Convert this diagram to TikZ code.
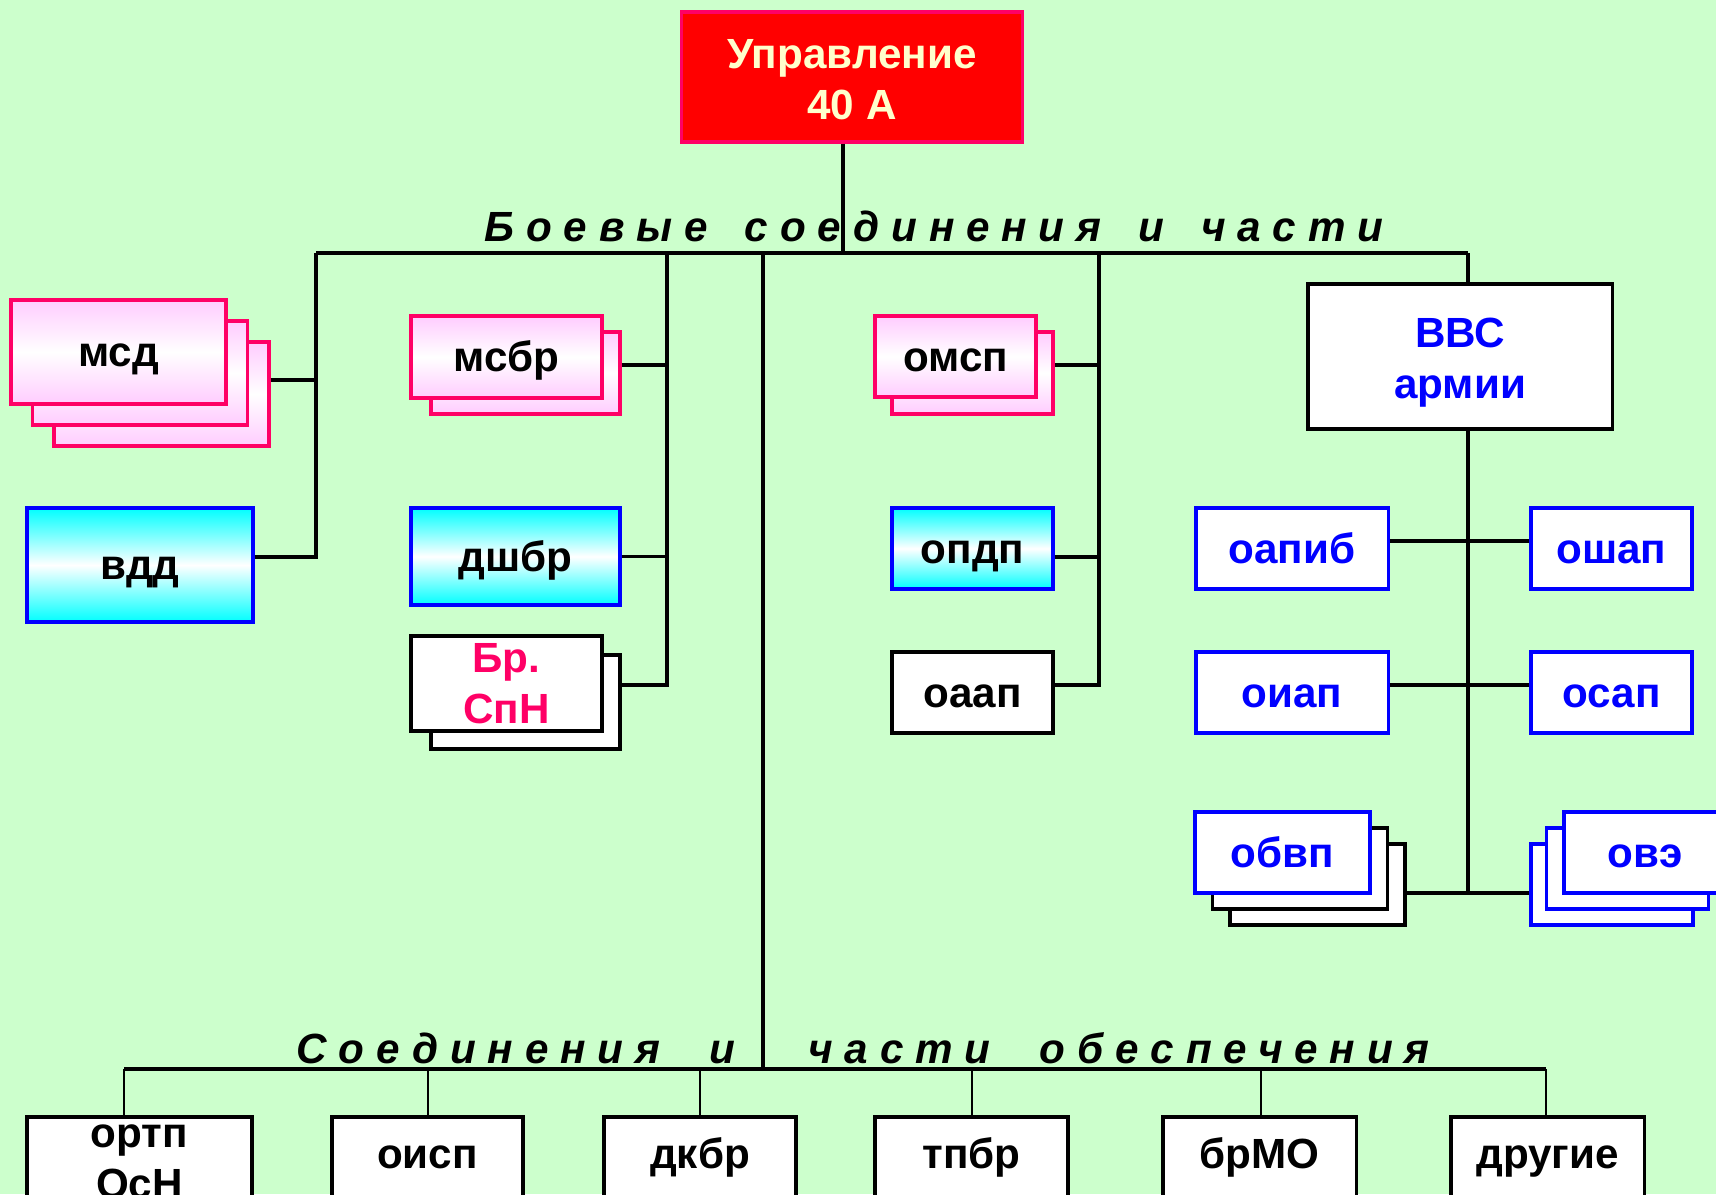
\documentclass[tikz,border=0pt]{standalone}
\usepackage{fontspec}
\setmainfont{Liberation Sans}
\newfontfamily\spacedfont[LetterSpace=28]{Liberation Sans}

\definecolor{bg}{HTML}{CCFFCC}
\definecolor{hotpink}{HTML}{FF0066}
\definecolor{pinkfill}{HTML}{FFCCFF}
\definecolor{cream}{HTML}{FFFFCC}

\begin{document}
\begin{tikzpicture}[x=0.01cm, y=-0.01cm,
  every node/.style = {shape=rectangle, draw, align=center, inner sep=0pt,
    line width=0.9pt, font=\fontsize{12}{14.5}\selectfont\bfseries,
    text height=10.8pt, text depth=2.5pt},
  twolines/.style = {text height={}, text depth={}},
  headbox/.style = {draw=hotpink, fill=red, text=cream},
  pinkbox/.style = {draw=hotpink, top color=pinkfill, bottom color=pinkfill, middle color=white},
  cyanbox/.style = {draw=blue, top color=cyan, bottom color=cyan, middle color=white},
  whitebox/.style = {draw=black, fill=white},
  bluebox/.style = {draw=blue, fill=white, text=blue},
  suppbox/.style = {whitebox, minimum height=0.82cm, text depth=4.6pt},
  grouplabel/.style = {draw=none, anchor=base west, text height={}, text depth={},
    font=\spacedfont\fontsize{12}{14.5}\selectfont\bfseries\itshape},
  bus/.style = {line width=0.9pt}]
  \clip (0,0) rectangle (1716,1194);
  \fill[bg] (0,0) rectangle (1716,1194);

  \node[headbox, twolines, minimum width=3.4cm, minimum height=1.3cm] (upr) at (852,77) {\rule{0pt}{9.8pt}Управление\\40 А};

  % combat units
  \node[pinkbox, minimum width=2.15cm, minimum height=1.04cm] (msdC) at (161.5,394) {};
  \node[pinkbox, minimum width=2.15cm, minimum height=1.04cm] (msdB) at (140,373) {};
  \node[pinkbox, minimum width=2.15cm, minimum height=1.04cm] (msd) at (118.5,352) {мсд};
  \node[cyanbox, minimum width=2.26cm, minimum height=1.14cm] (vdd) at (140,565) {вдд};

  \node[pinkbox, minimum width=1.89cm, minimum height=0.82cm] (msbrB) at (525.5,373) {};
  \node[pinkbox, minimum width=1.91cm, minimum height=0.82cm] (msbr) at (506.5,357) {мсбр};
  \node[cyanbox, minimum width=2.09cm, minimum height=0.97cm] (dshbr) at (515.5,556.5) {дшбр};
  \node[whitebox, minimum width=1.89cm, minimum height=0.94cm] (brspnB) at (525.5,702) {};
  \node[whitebox, twolines, text=hotpink, minimum width=1.91cm, minimum height=0.95cm] (brspn) at (506.5,683.5) {Бр.\\СпН};

  \node[pinkbox, minimum width=1.61cm, minimum height=0.82cm] (omspB) at (972.5,373) {};
  \node[pinkbox, minimum width=1.61cm, minimum height=0.81cm] (omsp) at (955.5,356.5) {омсп};
  \node[cyanbox, minimum width=1.61cm, minimum height=0.81cm] (opdp) at (972.5,548.5) {опдп};
  \node[whitebox, minimum width=1.61cm, minimum height=0.81cm] (oaap) at (972.5,692.5) {оаап};

  % army aviation
  \node[whitebox, twolines, text=blue, minimum width=3.04cm, minimum height=1.45cm] (vvs) at (1460,356.5) {\rule{0pt}{11.9pt}ВВС\\армии};
  \node[bluebox, minimum width=1.92cm, minimum height=0.81cm] (oapib) at (1292,548.5) {оапиб};
  \node[bluebox, minimum width=1.61cm, minimum height=0.81cm] (oshap) at (1611.5,548.5) {ошап};
  \node[bluebox, minimum width=1.92cm, minimum height=0.81cm] (oiap) at (1292,692.5) {оиап};
  \node[bluebox, minimum width=1.61cm, minimum height=0.81cm] (osap) at (1611.5,692.5) {осап};
  \node[whitebox, minimum width=1.75cm, minimum height=0.81cm] (obvpC) at (1317.5,884.5) {};
  \node[whitebox, minimum width=1.75cm, minimum height=0.81cm] (obvpB) at (1300,868.5) {};
  \node[bluebox, minimum width=1.75cm, minimum height=0.81cm] (obvp) at (1282.5,852.5) {обвп};
  \node[bluebox, minimum width=1.62cm, minimum height=0.81cm] (oveC) at (1612,884.5) {};
  \node[bluebox, minimum width=1.62cm, minimum height=0.81cm] (oveB) at (1627.5,868.5) {};
  \node[bluebox, minimum width=1.62cm, minimum height=0.81cm] (ove) at (1645,852.5) {овэ};

  % support units
  \node[whitebox, twolines, minimum width=2.25cm, minimum height=0.9cm] (ortp) at (139.5,1162) {ортп\\ОсН};
  \node[suppbox, minimum width=1.91cm] (oisp) at (427.5,1158) {оисп};
  \node[suppbox, minimum width=1.92cm] (dkbr) at (700,1158) {дкбр};
  \node[suppbox, minimum width=1.93cm] (tpbr) at (971.5,1158) {тпбр};
  \node[suppbox, minimum width=1.93cm] (brmo) at (1259.5,1158) {брМО};
  \node[suppbox, minimum width=1.93cm] (drugie) at (1547.5,1158) {другие};

  \node[grouplabel] (lbtop) at (483,241) {Боевые\hspace{0.135cm} соединения\hspace{0.135cm} и\hspace{0.135cm} части};
  \node[grouplabel] (lbbot) at (295,1063) {Соединения\hspace{0.255cm} и\hspace{0.5cm} части\hspace{0.255cm} обеспечения};

  % connectors
  \coordinate (b1) at (316,253);
  \coordinate (b2) at (667,253);
  \coordinate (tr) at (763,253);
  \coordinate (b3) at (1099,253);
  \coordinate (b4) at (1468,253);
  \coordinate (b5) at (1468,893);
  \coordinate (trb) at (763,1069);

  \draw[bus] ([xshift=-0.09cm]upr.south) -- ++(0,111);
  \draw[bus] (b1) -- (b4);
  \draw[bus] ([yshift=0.14cm]msdC.east) -| (b1);
  \draw[bus] ([yshift=0.08cm]vdd.east) -| (b1);
  \draw[bus] ([yshift=0.08cm]msbrB.east) -| (b2);
  \draw[bus] (dshbr.east) -| (b2);
  \draw[bus] ([yshift=0.17cm]brspnB.east) -| (b2);
  \draw[bus] ([yshift=0.08cm]omspB.east) -| (b3);
  \draw[bus] ([yshift=-0.085cm]opdp.east) -| (b3);
  \draw[bus] ([yshift=0.075cm]oaap.east) -| (b3);
  \draw[bus] (b4) -- (b4 |- vvs.north);
  \draw[bus] (vvs.south -| b4) -- (b5);
  \draw[bus] ([yshift=0.075cm]oapib.east) -- ([yshift=0.075cm]oshap.west);
  \draw[bus] ([yshift=0.075cm]oiap.east) -- ([yshift=0.075cm]osap.west);
  \draw[bus] ([yshift=-0.085cm]obvpC.east) -- ([yshift=-0.085cm]oveC.west);
  \draw[bus] (tr) -- (trb);
  \draw[bus] (124,1069) -- (1546,1069);
  \foreach \n/\x in {ortp/124, oisp/428, dkbr/700, tpbr/972, brmo/1261, drugie/1546}
    \draw[line width=0.7pt] (\x,1069) -- (\n.north -| \x,0);
\end{tikzpicture}
\end{document}
